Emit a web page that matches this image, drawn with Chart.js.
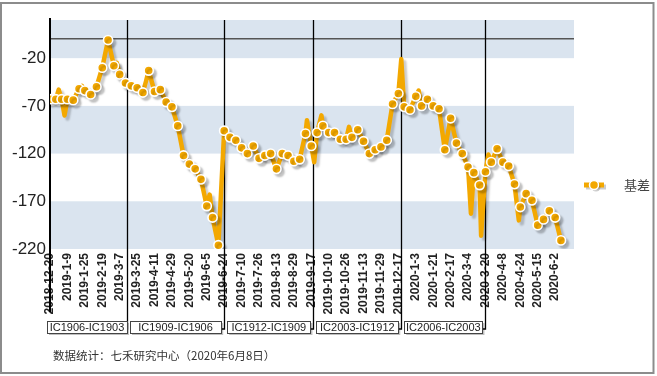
<!DOCTYPE html>
<html>
<head>
<meta charset="utf-8">
<script src="https://cdn.jsdelivr.net/npm/chart.js@4.4.0/dist/chart.umd.min.js"></script>
<style>
  body { margin: 0; background: #fff; }
  #wrap { width: 657px; height: 376px; }
</style>
</head>
<body>
<div id="wrap"><canvas id="chartBasis" width="657" height="376"></canvas></div>
<script>
// tick labels, one every 12 trading days
const tickLabels = ["2018-12-20", "2019-1-9", "2019-1-25", "2019-2-19", "2019-3-7", "2019-3-25", "2019-4-11", "2019-4-29", "2019-5-20", "2019-6-5",
  "2019-6-24", "2019-7-10", "2019-7-26", "2019-8-13", "2019-8-29", "2019-9-17", "2019-10-10", "2019-10-26", "2019-11-13", "2019-11-29",
  "2019-12-17", "2020-1-3", "2020-1-21", "2020-2-17", "2020-3-4", "2020-3-20", "2020-4-8", "2020-4-24", "2020-5-15", "2020-6-2"];

// trading-day index and basis value
const dayIdx = [0, 4, 6, 8, 10, 12, 16, 20, 22, 24, 28, 32, 36, 40, 44, 46, 48, 52, 56, 60,
  64, 66, 68, 72, 76, 80, 84, 88, 92, 96, 100, 104, 108, 110, 112, 116, 120, 124, 128, 132,
  136, 140, 144, 148, 152, 156, 160, 164, 168, 172, 176, 177, 180, 182, 184, 187, 188, 192, 196, 200,
  204, 206, 208, 212, 216, 220, 224, 228, 232, 236, 240, 242, 244, 248, 252, 254, 256, 260, 264, 268,
  272, 276, 280, 284, 288, 290, 292, 296, 297, 300, 302, 304, 308, 312, 316, 320, 323, 324, 328, 332,
  336, 340, 344, 348, 352];
const basis = [-63, -63, -53, -63, -80, -63, -64, -52, -49, -54, -58, -50, -30, -1, -28, -25, -37, -46, -49, -51,
  -56, -45, -33, -55, -53, -66, -71, -91, -122, -131, -136, -147, -175, -163, -187, -216, -96, -103, -106, -114,
  -120, -112, -125, -122, -120, -136, -120, -122, -128, -126, -99, -85, -112, -129, -98, -80, -91, -98, -98, -105,
  -105, -92, -103, -95, -107, -120, -116, -113, -106, -68, -57, -21, -71, -74, -60, -54, -70, -63, -70, -73,
  -116, -83, -109, -120, -134, -183, -140, -153, -206, -139, -121, -129, -115, -129, -133, -152, -190, -176, -162, -169,
  -195, -189, -180, -187, -211];

// contract roll points (trading-day index) and their spread names
const rollIdx = [0, 53, 120, 181.5, 242, 300];
const contracts = ["IC1906-IC1903", "IC1909-IC1906", "IC1912-IC1909", "IC2003-IC1912", "IC2006-IC2003"];

const yTicks = [-220, -170, -120, -70, -20];
const seriesName = "基差";
const note = "数据统计：七禾研究中心（2020年6月8日）";

const orange = "#f3a800";
const band = "#dae4ef";

Chart.defaults.font.family = '"Liberation Sans", Arial, sans-serif';

const shadow = {
  id: "shadow",
  beforeDatasetDraw(chart) {
    const c = chart.ctx;
    c.save();
    c.shadowColor = "rgba(0,0,0,0.2)";
    c.shadowBlur = 2;
    c.shadowOffsetX = 3;
    c.shadowOffsetY = 3;
  },
  afterDatasetDraw(chart) {
    chart.ctx.restore();
  },
};

const deco = {
  id: "deco",
  beforeDraw(chart) {
    const { ctx, chartArea: a, scales: { y } } = chart;
    ctx.save();
    ctx.fillStyle = band;
    for (let i = 0; i < yTicks.length; i += 2) {
      const top = y.getPixelForValue(i + 1 < yTicks.length ? yTicks[i + 1] : y.max);
      const bot = y.getPixelForValue(yTicks[i]);
      ctx.fillRect(a.left, top, a.right - a.left, bot - top);
    }
    ctx.restore();
  },
  beforeDatasetsDraw(chart) {
    const { ctx, scales: { x } } = chart;
    ctx.save();
    // y axis line
    ctx.strokeStyle = "#000";
    ctx.lineWidth = 2;
    ctx.beginPath();
    ctx.moveTo(x.getPixelForValue(rollIdx[0]), 18);
    ctx.lineTo(x.getPixelForValue(rollIdx[0]), 312);
    ctx.stroke();
    ctx.lineWidth = 1.3;
    for (let i = 1; i < rollIdx.length; i++) {
      const px = Math.round(x.getPixelForValue(rollIdx[i])) + 0.5;
      const prevRight = x.getPixelForValue(rollIdx[i]) - (i === 1 ? 0 : 3);
      ctx.beginPath();
      ctx.moveTo(px, 20);
      ctx.lineTo(px, 329);
      ctx.lineTo(prevRight, 329);
      ctx.stroke();
    }
    ctx.restore();
  },
  afterDraw(chart) {
    const { ctx, scales: { x } } = chart;
    ctx.save();
    // contract boxes
    ctx.font = '11px "Liberation Sans", Arial, sans-serif';
    ctx.textAlign = "center";
    ctx.textBaseline = "middle";
    contracts.forEach((name, i) => {
      const l = x.getPixelForValue(rollIdx[i]) + (i === 0 ? -3 : 3);
      const r = x.getPixelForValue(rollIdx[i + 1]) - (i === 0 ? 0 : 3);
      const t = 321, h = 12;
      ctx.fillStyle = "rgba(0,0,0,0.25)";
      ctx.fillRect(l + 2, t + 2, r - l, h);
      ctx.fillStyle = "#fff";
      ctx.fillRect(l, t, r - l, h);
      ctx.strokeStyle = "#444";
      ctx.lineWidth = 1;
      ctx.strokeRect(Math.round(l) + 0.5, t + 0.5, Math.round(r - l), h);
      ctx.fillStyle = "#222";
      ctx.fillText(name, (l + r) / 2, t + h / 2 + 1);
    });

    // legend
    const ly = 185, lx = 584;
    ctx.save();
    ctx.shadowColor = "rgba(0,0,0,0.2)";
    ctx.shadowOffsetX = 2;
    ctx.shadowOffsetY = 2;
    ctx.strokeStyle = orange;
    ctx.lineWidth = 5;
    ctx.beginPath();
    ctx.moveTo(lx, ly);
    ctx.lineTo(lx + 20, ly);
    ctx.stroke();
    ctx.beginPath();
    ctx.arc(lx + 10, ly, 4.5, 0, Math.PI * 2);
    ctx.fillStyle = orange;
    ctx.fill();
    ctx.shadowColor = "rgba(0,0,0,0)";
    ctx.lineWidth = 1.5;
    ctx.strokeStyle = "#fff";
    ctx.stroke();
    ctx.restore();
    ctx.textAlign = "left";
    ctx.textBaseline = "middle";
    ctx.fillStyle = "#444";
    ctx.font = '13px "Noto Sans CJK SC", sans-serif';
    ctx.fillText(chart.data.datasets[0].label, 624, ly);

    // source note
    ctx.fillStyle = "#333";
    ctx.font = '11.5px "Noto Sans CJK SC", sans-serif';
    ctx.fillText(note, 53, 356);

    // outer frame
    ctx.strokeStyle = "#8c8c8c";
    ctx.lineWidth = 2;
    ctx.strokeRect(1, 3, 652.5, 370);
    ctx.restore();
  },
};

new Chart(document.querySelector("#chartBasis"), {
  type: "line",
  data: {
    datasets: [
      {
        label: seriesName,
        data: dayIdx.map((d, i) => ({ x: d, y: basis[i] })),
        borderColor: orange,
        backgroundColor: orange,
        borderWidth: 4.5,
        borderJoinStyle: "round",
        borderCapStyle: "round",
        tension: 0,
        fill: false,
        pointRadius: (c) => (dayIdx[c.dataIndex] % 4 === 0 ? 4.6 : 0),
        pointBackgroundColor: orange,
        pointBorderColor: "#fff",
        pointBorderWidth: 1.6,
      },
    ],
  },
  options: {
    responsive: false,
    animation: false,
    devicePixelRatio: 1,
    layout: { padding: { top: 20, right: 83, bottom: 0, left: 0 } },
    scales: {
      x: {
        type: "linear",
        min: 0,
        max: 361,
        afterBuildTicks: (s) => { s.ticks = tickLabels.map((_, i) => ({ value: i * 12 })); },
        afterFit: (s) => { s.height = 127; },
        grid: { display: false, drawTicks: false },
        border: { display: false },
        ticks: {
          autoSkip: false,
          minRotation: 90,
          maxRotation: 90,
          padding: 4,
          color: "#222",
          font: { size: 12, weight: "bold" },
          callback: (v) => tickLabels[Math.round(v / 12)],
        },
      },
      y: {
        min: -220,
        max: 20,
        afterBuildTicks: (s) => { s.ticks = yTicks.concat([0]).map((v) => ({ value: v })); },
        afterFit: (s) => { s.width = 50; },
        grid: {
          drawTicks: false,
          lineWidth: 1.5,
          color: (c) => (c.tick && c.tick.value === 0 ? "#555" : "rgba(0,0,0,0)"),
        },
        border: { display: false },
        ticks: {
          padding: 4,
          color: "#222",
          font: { size: 17 },
          callback: (v) => (v === 0 ? "" : v),
        },
      },
    },
    plugins: {
      legend: { display: false },
      tooltip: { enabled: false },
    },
  },
  plugins: [shadow, deco],
});
</script>
</body>
</html>
